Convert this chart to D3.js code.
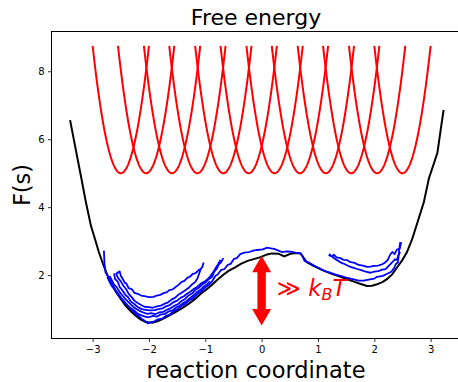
<!DOCTYPE html>
<html lang="en">
<head>
<meta charset="UTF-8">
<title>Free energy</title>
<script src="https://cdn.jsdelivr.net/npm/d3@7"></script>
<style>
    body { margin: 0; background: #fff; }
    text { font-family: "DejaVu Sans", sans-serif; fill: #000; }
</style>
</head>
<body>
<div id="chart"></div>
<script>
    // umbrella windows (harmonic bias potentials)
    const biasCenters = [-2.5, -2.05, -1.59, -1.14, -0.68, -0.23, 0.23, 0.68, 1.14, 1.59, 2.05, 2.5];
    const biasOffset = 5;
    const biasStiffness = 30;
    const biasHalfWidth = 0.5;

    // reference free energy profile
    const refX = [-3.40, -3.30, -3.20, -3.12, -3.03, -2.95, -2.89, -2.82, -2.74, -2.66, -2.59, -2.50, -2.42, -2.33,
        -2.24, -2.15, -2.06, -1.94, -1.85, -1.77, -1.65, -1.53, -1.41, -1.29, -1.18, -1.08, -0.98, -0.88, -0.78,
        -0.68, -0.58, -0.47, -0.37, -0.25, -0.14, -0.02, 0.10, 0.18, 0.30, 0.40, 0.51, 0.60, 0.69, 0.75, 0.81,
        0.92, 1.05, 1.22, 1.40, 1.52, 1.64, 1.76, 1.87, 1.96, 2.05, 2.15, 2.23, 2.32, 2.41, 2.50, 2.58, 2.67,
        2.76, 2.88, 2.97, 3.05, 3.12, 3.18, 3.23];
    const refF = [6.56, 5.70, 4.85, 4.15, 3.45, 3.02, 2.68, 2.35, 2.00, 1.74, 1.52, 1.30, 1.11, 0.95,
        0.81, 0.70, 0.62, 0.60, 0.64, 0.70, 0.80, 0.91, 1.03, 1.16, 1.30, 1.45, 1.58, 1.72, 1.87,
        2.01, 2.13, 2.23, 2.33, 2.42, 2.47, 2.53, 2.61, 2.64, 2.63, 2.55, 2.63, 2.65, 2.64, 2.50, 2.37,
        2.27, 2.17, 2.05, 1.95, 1.88, 1.81, 1.74, 1.68, 1.69, 1.73, 1.80, 1.89, 2.03, 2.24, 2.45, 2.68, 3.05,
        3.52, 4.15, 4.85, 5.25, 5.60, 6.30, 6.86];

    // per-run estimates, [s, F]
    const runA = [[-2.55, 2.06], [-2.52, 2.11], [-2.50, 1.98], [-2.47, 1.90], [-2.43, 1.78], [-2.40, 1.75], [-2.36, 1.62],
        [-2.30, 1.58], [-2.26, 1.48], [-2.20, 1.45], [-2.14, 1.40], [-2.08, 1.38], [-2.00, 1.35], [-1.92, 1.36],
        [-1.86, 1.40], [-1.80, 1.42], [-1.74, 1.47], [-1.68, 1.50], [-1.64, 1.56], [-1.58, 1.58], [-1.52, 1.66],
        [-1.47, 1.72], [-1.42, 1.80], [-1.37, 1.83], [-1.32, 1.92], [-1.27, 1.96], [-1.22, 2.04], [-1.17, 2.06],
        [-1.12, 2.15], [-1.08, 2.18], [-1.05, 2.25], [-1.03, 2.37]];
    const runB = [[-2.53, 2.11], [-2.58, 2.04], [-2.55, 1.92], [-2.50, 1.82], [-2.46, 1.70], [-2.41, 1.60], [-2.36, 1.45],
        [-2.31, 1.36], [-2.26, 1.25], [-2.20, 1.18], [-2.14, 1.12], [-2.08, 1.07], [-2.00, 1.06], [-1.93, 1.04],
        [-1.86, 1.08], [-1.79, 1.10], [-1.72, 1.16], [-1.66, 1.20], [-1.60, 1.28], [-1.54, 1.33], [-1.48, 1.42],
        [-1.42, 1.48], [-1.36, 1.55], [-1.30, 1.62], [-1.24, 1.72], [-1.18, 1.80], [-1.14, 1.90], [-1.11, 2.04],
        [-1.08, 2.19]];
    const runC = [[-2.62, 2.05], [-2.60, 1.88], [-2.55, 1.80], [-2.52, 1.65], [-2.47, 1.55], [-2.42, 1.42], [-2.37, 1.35],
        [-2.32, 1.22], [-2.26, 1.15], [-2.20, 1.06], [-2.13, 1.00], [-2.06, 0.98], [-1.98, 0.96], [-1.90, 0.97],
        [-1.83, 1.00], [-1.76, 1.02], [-1.70, 1.08], [-1.63, 1.12], [-1.57, 1.20], [-1.50, 1.25], [-1.44, 1.33],
        [-1.38, 1.38], [-1.32, 1.46], [-1.26, 1.52], [-1.20, 1.60], [-1.14, 1.66], [-1.08, 1.75], [-1.02, 1.80],
        [-0.96, 1.88], [-0.92, 1.95], [-0.86, 2.08], [-0.82, 2.20], [-0.78, 2.30], [-0.73, 2.45]];
    const runD = [[-2.70, 1.98], [-2.66, 1.85], [-2.62, 1.72], [-2.57, 1.64], [-2.52, 1.50], [-2.47, 1.40], [-2.42, 1.30],
        [-2.36, 1.20], [-2.30, 1.10], [-2.24, 1.02], [-2.17, 0.95], [-2.10, 0.90], [-2.03, 0.86], [-1.96, 0.88],
        [-1.89, 0.85], [-1.82, 0.90], [-1.75, 0.92], [-1.68, 0.98], [-1.62, 1.02], [-1.55, 1.10], [-1.48, 1.15],
        [-1.42, 1.24], [-1.36, 1.30], [-1.30, 1.40], [-1.24, 1.45], [-1.18, 1.56], [-1.12, 1.62], [-1.06, 1.72],
        [-1.00, 1.78], [-0.94, 1.88], [-0.88, 1.95], [-0.84, 2.10], [-0.80, 2.18], [-0.76, 2.32], [-0.72, 2.38],
        [-0.68, 2.50]];
    const runE = [[-2.74, 1.95], [-2.70, 1.80], [-2.66, 1.68], [-2.61, 1.58], [-2.56, 1.45], [-2.51, 1.36], [-2.46, 1.25],
        [-2.40, 1.15], [-2.34, 1.05], [-2.28, 0.98], [-2.21, 0.88], [-2.14, 0.82], [-2.07, 0.78], [-2.00, 0.76],
        [-1.93, 0.80], [-1.86, 0.78], [-1.79, 0.84], [-1.72, 0.86], [-1.65, 0.93], [-1.58, 0.96], [-1.52, 1.05],
        [-1.45, 1.10], [-1.39, 1.18], [-1.33, 1.24], [-1.27, 1.33], [-1.21, 1.40], [-1.15, 1.50], [-1.09, 1.56],
        [-1.03, 1.66], [-0.97, 1.72], [-0.92, 1.82]];
    const runF = [[-2.80, 2.72], [-2.79, 2.35], [-2.77, 2.08], [-2.73, 1.98], [-2.70, 1.84], [-2.65, 1.72], [-2.60, 1.58],
        [-2.55, 1.46], [-2.50, 1.34], [-2.44, 1.22], [-2.38, 1.10], [-2.32, 1.00], [-2.26, 0.90], [-2.20, 0.82],
        [-2.13, 0.72], [-2.07, 0.65], [-2.02, 0.58], [-1.96, 0.62], [-1.90, 0.64], [-1.84, 0.70], [-1.77, 0.72],
        [-1.70, 0.80], [-1.63, 0.84], [-1.56, 0.94], [-1.49, 1.00], [-1.42, 1.10], [-1.35, 1.16], [-1.28, 1.26],
        [-1.21, 1.33], [-1.14, 1.45], [-1.07, 1.52], [-1.00, 1.64], [-0.93, 1.72], [-0.87, 1.84], [-0.82, 1.98],
        [-0.78, 2.02], [-0.72, 2.15], [-0.66, 2.18], [-0.60, 2.30], [-0.55, 2.33], [-0.49, 2.48], [-0.44, 2.50],
        [-0.38, 2.62], [-0.31, 2.66], [-0.22, 2.68], [-0.15, 2.72], [-0.08, 2.74], [0.02, 2.76], [0.10, 2.81],
        [0.16, 2.79], [0.22, 2.77], [0.30, 2.72], [0.36, 2.68], [0.45, 2.70], [0.51, 2.69], [0.60, 2.66],
        [0.69, 2.64], [0.73, 2.55], [0.76, 2.42], [0.85, 2.36], [0.93, 2.28], [1.02, 2.21], [1.12, 2.12],
        [1.20, 2.08], [1.30, 2.02], [1.40, 1.98], [1.50, 1.93], [1.62, 1.88], [1.72, 1.84], [1.81, 1.84],
        [1.90, 1.87], [2.00, 1.90], [2.05, 1.95], [2.15, 1.98], [2.23, 2.04], [2.30, 2.10], [2.35, 2.20],
        [2.38, 2.32], [2.42, 2.38], [2.44, 2.70], [2.46, 2.97]];
    const runG = [[1.22, 2.63], [1.20, 2.58], [1.25, 2.55], [1.28, 2.60], [1.33, 2.52], [1.40, 2.50], [1.45, 2.45],
        [1.52, 2.44], [1.58, 2.38], [1.65, 2.36], [1.72, 2.30], [1.80, 2.28], [1.87, 2.24], [1.93, 2.25],
        [2.00, 2.27], [2.07, 2.28], [2.14, 2.32], [2.20, 2.38], [2.24, 2.45], [2.28, 2.60], [2.32, 2.68],
        [2.36, 2.62], [2.40, 2.75], [2.45, 2.78], [2.48, 2.97]];
    const runH = [[1.25, 2.55], [1.30, 2.48], [1.36, 2.42], [1.42, 2.36], [1.48, 2.32], [1.55, 2.26], [1.62, 2.22],
        [1.70, 2.18], [1.78, 2.14], [1.85, 2.10], [1.93, 2.07], [2.00, 2.10], [2.07, 2.12], [2.14, 2.16],
        [2.20, 2.18], [2.26, 2.28], [2.32, 2.38], [2.36, 2.46], [2.40, 2.45], [2.43, 2.60], [2.46, 2.68]];
    const runs = [runA, runB, runC, runD, runE, runF, runG, runH];

    const xTicks = [-3, -2, -1, 0, 1, 2, 3];
    const yTicks = [2, 4, 6, 8];
    const barrierArrow = [0.52, 2.57];

    const width = 458;
    const height = 382;
    const margin = { left: 51.5, top: 31.5, right: 460.5, bottom: 338.5 };

    const x = d3.scaleLinear().domain([-3.73, 3.53]).range([margin.left, margin.right]);
    const y = d3.scaleLinear().domain([0.135, 9.17]).range([margin.bottom, margin.top]);

    const svg = d3.select('#chart')
        .append('svg')
        .attr('width', width)
        .attr('height', height);

    const plot = svg.append('g');
    const line = d3.line().x(d => x(d[0])).y(d => y(d[1]));

    // bias potentials
    const parabolas = biasCenters.map(c => {
        const pts = [];
        for (let i = 0; i <= 100; i++) {
            const s = c - biasHalfWidth + i * (2 * biasHalfWidth / 100);
            pts.push([s, biasOffset + 0.5 * biasStiffness * (s - c) ** 2]);
        }
        return pts;
    });
    plot.append('g')
        .selectAll('path')
        .data(parabolas)
        .join('path')
        .attr('d', line)
        .attr('fill', 'none')
        .attr('stroke', '#ff0000')
        .attr('stroke-width', 2);

    plot.append('path')
        .datum(refX.map((s, i) => [s, refF[i]]))
        .attr('d', line)
        .attr('fill', 'none')
        .attr('stroke', '#000')
        .attr('stroke-width', 2);

    plot.append('g')
        .selectAll('path')
        .data(runs)
        .join('path')
        .attr('d', line)
        .attr('fill', 'none')
        .attr('stroke', '#0000ff')
        .attr('stroke-width', 1.8)
        .attr('stroke-linejoin', 'round');

    // double headed arrow for the barrier height
    const ax = x(0);
    const yTop = y(barrierArrow[1]);
    const yBot = y(barrierArrow[0]);
    const headLen = 16.5, headW = 9.5, shaftW = 4.2;
    const arrowPts = [
        [ax, yTop], [ax + headW, yTop + headLen], [ax + shaftW, yTop + headLen],
        [ax + shaftW, yBot - headLen], [ax + headW, yBot - headLen], [ax, yBot],
        [ax - headW, yBot - headLen], [ax - shaftW, yBot - headLen],
        [ax - shaftW, yTop + headLen], [ax - headW, yTop + headLen]
    ];
    plot.append('polygon')
        .attr('points', arrowPts.map(p => p.join(',')).join(' '))
        .attr('fill', '#ff0000');

    const label = svg.append('text')
        .attr('x', x(0.27))
        .attr('y', y(1.4))
        .style('font-size', '23px')
        .style('fill', '#ff0000');
    label.append('tspan').text('\u226B ').style('fill', '#ff0000');
    label.append('tspan').text('k').style('font-style', 'italic').style('fill', '#ff0000');
    label.append('tspan').text('B').attr('dy', 4).style('font-size', '16px').style('font-style', 'italic').style('fill', '#ff0000');
    label.append('tspan').text('T').attr('dy', -4).style('font-style', 'italic').style('fill', '#ff0000');

    // axes frame
    svg.append('rect')
        .attr('x', margin.left)
        .attr('y', margin.top)
        .attr('width', margin.right - margin.left)
        .attr('height', margin.bottom - margin.top)
        .attr('fill', 'none')
        .attr('stroke', '#000')
        .attr('stroke-width', 1);

    const xAxis = svg.append('g')
        .attr('transform', `translate(0,${margin.bottom})`)
        .call(d3.axisBottom(x).tickValues(xTicks).tickSize(3.5).tickPadding(3.5)
            .tickFormat(d => d < 0 ? '\u2212' + Math.abs(d) : d));
    const yAxis = svg.append('g')
        .attr('transform', `translate(${margin.left},0)`)
        .call(d3.axisLeft(y).tickValues(yTicks).tickSize(3.5).tickPadding(3.5));
    [xAxis, yAxis].forEach(a => {
        a.select('.domain').remove();
        a.selectAll('text').style('font-family', '"DejaVu Sans", sans-serif').style('font-size', '10px').attr('fill', '#000');
        a.selectAll('line').attr('stroke', '#000').attr('stroke-width', 0.8);
    });

    svg.append('text')
        .attr('x', (margin.left + margin.right) / 2)
        .attr('y', 25)
        .attr('text-anchor', 'middle')
        .style('font-size', '22px')
        .text('Free energy');

    svg.append('text')
        .attr('x', (margin.left + margin.right) / 2)
        .attr('y', 378)
        .attr('text-anchor', 'middle')
        .style('font-size', '22.5px')
        .text('reaction coordinate');

    svg.append('text')
        .attr('transform', `translate(30,${(margin.top + margin.bottom) / 2}) rotate(-90)`)
        .attr('text-anchor', 'middle')
        .style('font-size', '22.5px')
        .text('F(s)');
</script>
</body>
</html>
